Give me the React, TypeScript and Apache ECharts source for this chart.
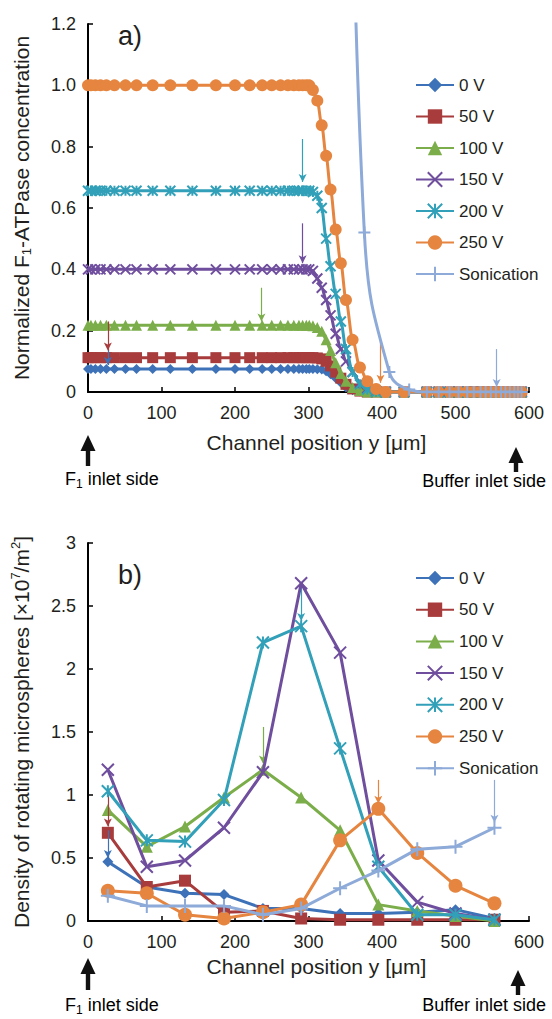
import React, { useEffect, useRef } from 'react';
import * as echarts from 'echarts';

const FONT = "'Liberation Sans', Arial, sans-serif";
const TXT = '#231f20';

const seriesNames = ['0 V', '50 V', '100 V', '150 V', '200 V', '250 V', 'Sonication'];
const colors = ['#3D72B8', '#A83C3C', '#7BAE4A', '#6F4E9E', '#31A0B8', '#E5853F', '#8DAAD8'];
const CROSS = 'path://M0,0L10,10M0,10L10,0';
const STAR = 'path://M0,0L10,10M0,10L10,0M5,0L5,10';
const PLUS = 'path://M5,0L5,10M0,5L10,5';
const symbols = ['diamond', 'rect', 'triangle', CROSS, STAR, 'circle', PLUS];
const strokeSymbol = [false, false, false, true, true, false, true];
const sizesA = [10, 11, 11, 10, 10, 12, 12];
const sizesB = [11, 12, 12, 12, 12, 14, 14];

const xTicks = [0, 100, 200, 300, 400, 500, 600];

// ---------- panel a) ----------
const xA = [0, 4, 10, 17, 25, 36, 51, 66, 88, 112, 142, 174, 200, 220, 237, 250, 262, 272, 280, 287, 292, 297, 301,
  306, 312, 318, 324, 330, 337, 344, 351, 360, 370, 380, 392, 405,
  430, 461, 477, 492, 504, 516, 525, 534, 541, 548, 555, 562, 568, 574, 580, 585, 590];
const a0 = [0.075, 0.075, 0.075, 0.075, 0.075, 0.075, 0.075, 0.075, 0.075, 0.075, 0.075, 0.075, 0.075, 0.075, 0.075, 0.075, 0.075, 0.075, 0.075, 0.075, 0.075, 0.075, 0.075,
  0.075, 0.074, 0.073, 0.068, 0.058, 0.045, 0.03, 0.015, 0.006, 0.002, 0, 0, 0,
  0, 0, 0, 0, 0, 0, 0, 0, 0, 0, 0, 0, 0, 0, 0, 0, 0];
const a50 = [0.112, 0.112, 0.112, 0.112, 0.112, 0.112, 0.112, 0.112, 0.112, 0.112, 0.112, 0.112, 0.112, 0.112, 0.112, 0.112, 0.112, 0.112, 0.112, 0.112, 0.112, 0.112, 0.112,
  0.112, 0.111, 0.108, 0.1, 0.085, 0.065, 0.045, 0.025, 0.01, 0.003, 0, 0, 0,
  0, 0, 0, 0, 0, 0, 0, 0, 0, 0, 0, 0, 0, 0, 0, 0, 0];
const a100 = [0.218, 0.218, 0.218, 0.218, 0.218, 0.218, 0.218, 0.218, 0.218, 0.218, 0.218, 0.218, 0.218, 0.218, 0.218, 0.218, 0.218, 0.218, 0.218, 0.218, 0.218, 0.218, 0.218,
  0.216, 0.21, 0.198, 0.17, 0.135, 0.095, 0.06, 0.035, 0.015, 0.005, 0, 0, 0,
  0, 0, 0, 0, 0, 0, 0, 0, 0, 0, 0, 0, 0, 0, 0, 0, 0];
const a150 = [0.4, 0.4, 0.4, 0.4, 0.4, 0.4, 0.4, 0.4, 0.4, 0.4, 0.4, 0.4, 0.4, 0.4, 0.4, 0.4, 0.4, 0.4, 0.4, 0.4, 0.4, 0.4, 0.4,
  0.395, 0.37, 0.34, 0.3, 0.25, 0.19, 0.14, 0.1, 0.065, 0.03, 0.012, 0.003, 0,
  0, 0, 0, 0, 0, 0, 0, 0, 0, 0, 0, 0, 0, 0, 0, 0, 0];
const a200 = [0.656, 0.656, 0.656, 0.656, 0.656, 0.656, 0.656, 0.656, 0.656, 0.656, 0.656, 0.656, 0.656, 0.656, 0.656, 0.656, 0.656, 0.656, 0.656, 0.656, 0.656, 0.656, 0.656,
  0.652, 0.64, 0.6, 0.5, 0.41, 0.32, 0.23, 0.14, 0.065, 0.025, 0.008, 0, 0,
  0, 0, 0, 0, 0, 0, 0, 0, 0, 0, 0, 0, 0, 0, 0, 0, 0];
const a250 = [1.0, 1.0, 1.0, 1.0, 1.0, 1.0, 1.0, 1.0, 1.0, 1.0, 1.0, 1.0, 1.0, 1.0, 1.0, 1.0, 1.0, 1.0, 1.0, 1.0, 1.0, 1.0, 1.0,
  0.985, 0.95, 0.87, 0.77, 0.66, 0.53, 0.42, 0.3, 0.17, 0.08, 0.035, 0.01, 0,
  0, 0, 0, 0, 0, 0, 0, 0, 0, 0, 0, 0, 0, 0, 0, 0, 0];
const xSonA = [355, 376, 410, 437, 461, 477, 492, 504, 516, 525, 534, 541, 548, 555, 562, 568, 574, 580, 585, 590];
const aSon = [2.6, 0.52, 0.065, 0.008, 0, 0, 0, 0, 0, 0, 0, 0, 0, 0, 0, 0, 0, 0, 0, 0];
const yA = [a0, a50, a100, a150, a200, a250];

// annotation arrows (series index, x, from, to)
const arrowsA = [
  [0, 27, 0.137, 0.088],
  [1, 27, 0.23, 0.135],
  [2, 236, 0.34, 0.23],
  [3, 292, 0.55, 0.42],
  [4, 292, 0.825, 0.685],
  [5, 398, 0.17, 0.03],
  [6, 556, 0.14, 0.016],
];

// ---------- panel b) ----------
const xB = [27, 80, 132, 185, 238, 290, 343, 395, 448, 500, 553];
const b0 = [0.47, 0.27, 0.22, 0.21, 0.1, 0.1, 0.06, 0.06, 0.07, 0.09, 0.02];
const b50 = [0.7, 0.27, 0.32, 0.07, 0.08, 0.02, 0.01, 0.01, 0.01, 0.01, 0.01];
const b100 = [0.88, 0.59, 0.75, 0.98, 1.2, 0.98, 0.72, 0.13, 0.08, 0.04, 0.0];
const b150 = [1.2, 0.43, 0.48, 0.74, 1.18, 2.68, 2.13, 0.48, 0.15, 0.06, 0.01];
const b200 = [1.03, 0.64, 0.63, 0.96, 2.21, 2.34, 1.37, 0.43, 0.05, 0.05, 0.01];
const b250 = [0.24, 0.22, 0.05, 0.02, 0.07, 0.13, 0.64, 0.89, 0.54, 0.28, 0.14];
const bSon = [0.2, 0.12, 0.12, 0.12, 0.05, 0.1, 0.26, 0.4, 0.57, 0.59, 0.74];
const yB = [b0, b50, b100, b150, b200, b250, bSon];

const arrowsB = [
  [0, 27, 0.72, 0.5],
  [1, 27, 1.0, 0.75],
  [2, 238, 1.54, 1.25],
  [3, 290, 3.05, 2.73],
  [4, 290, 2.68, 2.38],
  [5, 395, 1.12, 0.93],
  [6, 553, 1.12, 0.78],
];

const zip = (xs: number[], ys: number[]) => xs.map((x, i) => [x, ys[i]]);

function markArrows(list: number[][], idx: number) {
  const items = list.filter((a) => a[0] === idx).map((a) => [
    { coord: [a[1], a[2]] },
    { coord: [a[1], a[3]] },
  ]);
  if (!items.length) return undefined;
  return {
    silent: true,
    symbol: ['none', 'arrow'],
    symbolSize: [6, 8],
    label: { show: false },
    lineStyle: { color: colors[idx], width: 1.2, type: 'solid' },
    emphasis: { disabled: true },
    data: items,
  };
}

function makeSeries(idx: number, data: number[][], grid: number, smooth: number, monotone: boolean, size: number, arrows: number[][]) {
  const c = colors[idx];
  const stroke = strokeSymbol[idx];
  return {
    type: 'line',
    name: seriesNames[idx],
    xAxisIndex: grid,
    yAxisIndex: grid,
    data,
    smooth: smooth > 0 ? smooth : false,
    smoothMonotone: monotone ? 'x' : undefined,
    clip: true,
    symbol: symbols[idx],
    symbolSize: size,
    showAllSymbol: true,
    lineStyle: { color: c, width: 3 },
    itemStyle: stroke ? { color: c, borderColor: c, borderWidth: 2 } : { color: c, borderWidth: 0 },
    emphasis: { disabled: true },
    markLine: markArrows(arrows, idx),
    z: 2 + idx,
  };
}

const axisCommon = {
  axisLine: { show: true, onZero: false, lineStyle: { color: '#000', width: 2 } },
  axisTick: { show: true, inside: true, length: 5, lineStyle: { color: '#000', width: 1.5 } },
  splitLine: { show: false },
  axisLabel: { color: TXT, fontSize: 18, fontFamily: FONT, margin: 12 },
};

function bigArrow(x: number, tip: number, bottom: number) {
  return {
    type: 'polygon',
    shape: {
      points: [
        [x, tip], [x + 7.5, tip + 16], [x + 2.2, tip + 16], [x + 2.2, bottom],
        [x - 2.2, bottom], [x - 2.2, tip + 16], [x - 7.5, tip + 16],
      ],
    },
    style: { fill: '#111' },
  };
}

const richBase = {
  n: { fontSize: 18, fontFamily: FONT, color: TXT, lineHeight: 22 },
  s: { fontSize: 12, fontFamily: FONT, color: TXT, lineHeight: 12, verticalAlign: 'bottom' },
};

function sideText(x: number, y: number, text: string, align: string) {
  return {
    type: 'text',
    x,
    y,
    style: { text, rich: richBase, align, verticalAlign: 'middle' },
  };
}

export default function App() {
  const ref = useRef<HTMLDivElement>(null);
  useEffect(() => {
    if (!ref.current) return;
    const chart = echarts.init(ref.current, undefined, { renderer: 'svg' });
    const series: any[] = [];
    for (let i = 0; i < 6; i++) series.push(makeSeries(i, zip(xA, yA[i]), 0, 0.3, true, sizesA[i], arrowsA));
    series.push(makeSeries(6, zip(xSonA, aSon), 0, 0.45, false, sizesA[6], arrowsA));
    for (let i = 0; i < 7; i++) series.push(makeSeries(i, zip(xB, yB[i]), 1, 0, false, sizesB[i], arrowsB));

    const legendCommon = {
      orient: 'vertical',
      left: 415,
      padding: 0,
      itemWidth: 38,
      itemHeight: 18,
      data: seriesNames,
      selectedMode: false,
      textStyle: { fontSize: 17, fontFamily: FONT, color: TXT, lineHeight: 20 },
    };

    chart.setOption({
      animation: false,
      backgroundColor: '#fff',
      grid: [
        { left: 88, right: 23, top: 24, height: 368 },
        { left: 88, right: 23, top: 543, height: 378 },
      ],
      legend: [
        { ...legendCommon, top: 75, itemGap: 11.5 },
        { ...legendCommon, top: 568, itemGap: 11.7 },
      ],
      xAxis: [0, 1].map((g) => ({
        ...axisCommon,
        type: 'value',
        gridIndex: g,
        min: xTicks[0],
        max: xTicks[xTicks.length - 1],
        interval: 100,
        name: 'Channel position y [μm]',
        nameLocation: 'middle',
        nameGap: g === 0 ? 40 : 35,
        nameTextStyle: { fontSize: 21, fontFamily: FONT, color: TXT, padding: [0, 0, 0, 16] },
      })),
      yAxis: [
        {
          ...axisCommon,
          type: 'value',
          gridIndex: 0,
          min: 0,
          max: 1.2,
          interval: 0.2,
          axisLabel: {
            ...axisCommon.axisLabel,
            formatter: (v: number) => (v === 0 ? '0' : v.toFixed(1)),
          },
          name: '{n|Normalized F}{s|1}{n|-ATPase concentration}',
          nameLocation: 'middle',
          nameGap: 55,
          nameTextStyle: {
            rich: {
              n: { fontSize: 21, fontFamily: FONT, color: TXT, lineHeight: 24 },
              s: { fontSize: 13, fontFamily: FONT, color: TXT, lineHeight: 12, verticalAlign: 'bottom' },
            },
          },
        },
        {
          ...axisCommon,
          type: 'value',
          gridIndex: 1,
          min: 0,
          max: 3,
          interval: 0.5,
          name: '{n|Density of rotating microspheres [×10}{p|7}{n|/m}{p|2}{n|]}',
          nameLocation: 'middle',
          nameGap: 55,
          nameTextStyle: {
            rich: {
              n: { fontSize: 21, fontFamily: FONT, color: TXT, lineHeight: 24 },
              p: { fontSize: 13, fontFamily: FONT, color: TXT, lineHeight: 12, verticalAlign: 'top' },
            },
          },
        },
      ],
      graphic: [
        { type: 'text', x: 118, y: 36, style: { text: 'a)', fontSize: 27, fontFamily: FONT, fill: TXT, verticalAlign: 'middle' } },
        { type: 'text', x: 118, y: 575, style: { text: 'b)', fontSize: 27, fontFamily: FONT, fill: TXT, verticalAlign: 'middle' } },
        bigArrow(88, 435, 466),
        bigArrow(516, 447, 472),
        bigArrow(88, 958, 990),
        bigArrow(518, 970, 995),
        sideText(65, 479, '{n|F}{s|1}{n| inlet side}', 'left'),
        sideText(546, 481, '{n|Buffer inlet side}', 'right'),
        sideText(65, 1005, '{n|F}{s|1}{n| inlet side}', 'left'),
        sideText(546, 1005, '{n|Buffer inlet side}', 'right'),
      ],
      series,
    });
    return () => chart.dispose();
  }, []);
  return <div ref={ref} style={{ position: 'fixed', left: 0, top: 0, width: 552, height: 1019, background: '#fff' }} />;
}
